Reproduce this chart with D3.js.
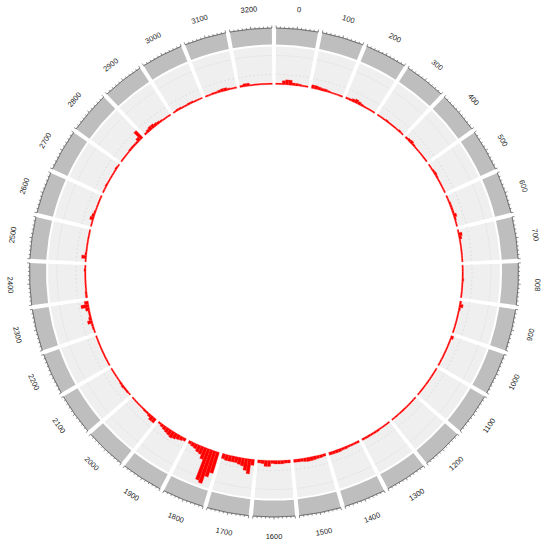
<!DOCTYPE html>
<html><head><meta charset="utf-8">
<script src="https://cdn.jsdelivr.net/npm/d3@7"></script>
<style>body{margin:0;background:#fff}svg{display:block}</style>
</head><body>
<svg id="chart" width="550" height="548"></svg>
<script>
// ---- data ----
const sectorNames = ["0","100","200","300","400","500","600","700","800","900","1000","1100","1200","1300","1400","1500","1600","1700","1800","1900","2000","2100","2200","2300","2400","2500","2600","2700","2800","2900","3000","3100","3200"];
const binStarts = [0,10,20,30,40,50,60,70,80,90];
const barHeights = [
  [1.5,1.5,4,5,5,2.5,2.5,2,1.5,1.5],
  [3.5,3.5,3,2.5,2.5,2,1.5,1.5,1.5,1.5],
  [2,2,3,4,3,2,1.5,1.5,1.5,1.5],
  [1.5,1.5,1.5,2,1.5,1.5,1.5,1.5,2,1.5],
  [2,2.5,3,2,1.5,1.5,1.5,1.5,1.5,1.5],
  [1.5,1.5,2,2.5,2,1.5,1.5,1.5,1.5,1.5],
  [1.5,1.5,2,2,2,2,3.5,2,1.5,1.5],
  [1.5,4,3,1.5,1.5,1.5,1.5,1.5,1.5,1.5],
  [1.5,1.5,1.5,1.5,2,1.5,1.5,1.5,1.5,1.5],
  [2,4,2,1.5,1.5,1.5,1.5,1.5,1.5,1.5],
  [3,1.5,1.5,1.5,1.5,1.5,1.5,1.5,1.5,1.5],
  [1.5,1.5,1.5,1.5,1.5,1.5,1.5,1.5,1.5,1.5],
  [1.5,1.5,1.5,1.5,1.5,1.5,1.5,1.5,1.5,1.5],
  [1.5,1.5,1.5,1.5,2,2,2,2,2,2],
  [2,2,2,2,2.5,2.5,3,3,3,3],
  [2.5,3,3,3.5,4,4,3.5,3,3,3],
  [3,3,3.5,3.5,3.5,3,6,6,3.5,3],
  [6,15,12,8,7,6,6,6,6,5],
  [22,27,35,33,12,8,7,5,4,3],
  [3,4,5,6,7,6,5,4,3,2],
  [5,5,3,2,2,1.5,1.5,1.5,1.5,1.5],
  [1.5,2,2,2.5,2,1.5,1.5,1.5,1.5,1.5],
  [1.5,1.5,1.5,1.5,1.5,1.5,1.5,1.5,1.5,1.5],
  [1.5,2,2,5,3,2,2,4,8,4],
  [2,2,1.5,1.5,1.5,1.5,1.5,1.5,2,1.5],
  [1.5,5,2,1.5,1.5,1.5,1.5,1.5,1.5,1.5],
  [1.5,1.5,4,3,2,1.5,1.5,1.5,1.5,1.5],
  [1.5,1.5,2,1.5,1.5,1.5,1.5,1.5,2,1.5],
  [1.5,1.5,1.5,1.5,2,2,2,2,4,10],
  [2,3,4,4,3,2.5,2,1.5,1.5,1.5],
  [1.5,2,2,1.5,1.5,2,2,1.5,1.5,1.5],
  [1.5,1.5,2,2,2.5,3,3,2,1.5,1.5],
  [2,3,3,1.5,1.5,1.5,1.5,1.5,1.5,1.5]
];
const sectorLength = 100;
const binWidth = 10;
const axisTicks = d3.range(0, 101, 10);

// ---- layout ----
const cx = 274, cy = 272.5;
const gapDeg = 1.0;
const nS = sectorNames.length;
const secDeg = (360 - nS * gapDeg) / nS;
const rad = d => d * Math.PI / 180;
const yMax = 36;

const svg = d3.select("#chart");
const g = svg.append("g").attr("transform", `translate(${cx},${cy})`);

const R = {grayOut: 244.5, grayIn: 228, lightOut: 226, lightIn: 190.5, base: 188, label: 264};
const yScale = d3.scaleLinear().domain([0, yMax]).range([R.base, R.base + 36]);

sectorNames.forEach((name, i) => {
  const a0 = i * (secDeg + gapDeg) + gapDeg / 2;
  const a1 = a0 + secDeg;
  const xScale = d3.scaleLinear().domain([0, sectorLength]).range([rad(a0), rad(a1)]);
  const sg = g.append("g").attr("class", "sector");

  // outer gray track
  sg.append("path").attr("d", d3.arc()({innerRadius: R.grayIn, outerRadius: R.grayOut, startAngle: xScale(0), endAngle: xScale(sectorLength)}))
    .attr("fill", "#bebebe");
  // axis line + ticks
  sg.append("path").attr("d", d3.arc()({innerRadius: R.grayOut, outerRadius: R.grayOut, startAngle: xScale(0), endAngle: xScale(sectorLength)}))
    .attr("fill", "none").attr("stroke", "#555").attr("stroke-width", 0.5);
  axisTicks.forEach(t => {
    const a = xScale(t);
    const len = (t % 50 === 0) ? 2.5 : 1.6;
    sg.append("line")
      .attr("x1", R.grayOut * Math.sin(a)).attr("y1", -R.grayOut * Math.cos(a))
      .attr("x2", (R.grayOut + len) * Math.sin(a)).attr("y2", -(R.grayOut + len) * Math.cos(a))
      .attr("stroke", "#444").attr("stroke-width", 0.6);
  });

  // light track background
  sg.append("path").attr("d", d3.arc()({innerRadius: R.lightIn, outerRadius: R.lightOut, startAngle: xScale(0), endAngle: xScale(sectorLength)}))
    .attr("fill", "#efefef");
  [198, 217].forEach(r => {
    sg.append("path").attr("d", d3.arc()({innerRadius: r, outerRadius: r, startAngle: xScale(0), endAngle: xScale(sectorLength)}))
      .attr("fill", "none").attr("stroke", "#d2d2d2").attr("stroke-width", 0.6).attr("stroke-dasharray", "1,3");
  });

  // bars
  barHeights[i].forEach((v, j) => {
    const s = binStarts[j];
    sg.append("path")
      .attr("d", d3.arc()({innerRadius: yScale(0), outerRadius: yScale(v), startAngle: xScale(s), endAngle: xScale(s + binWidth)}))
      .attr("fill", "#ff0000").attr("stroke", "#ff3a3a").attr("stroke-width", 0.3);
  });

  // label
  const mid = (a0 + a1) / 2;
  const lx = R.label * Math.sin(rad(mid)), ly = -R.label * Math.cos(rad(mid));
  const rot = (mid > 90 && mid < 270) ? mid - 180 : mid;
  sg.append("text").attr("transform", `translate(${lx},${ly}) rotate(${rot})`)
    .attr("text-anchor", "middle").attr("dominant-baseline", "central")
    .attr("font-family", "'Liberation Sans', Arial, sans-serif").attr("font-size", 7.5)
    .attr("fill", "#222").text(name);
});
</script>
</body></html>
